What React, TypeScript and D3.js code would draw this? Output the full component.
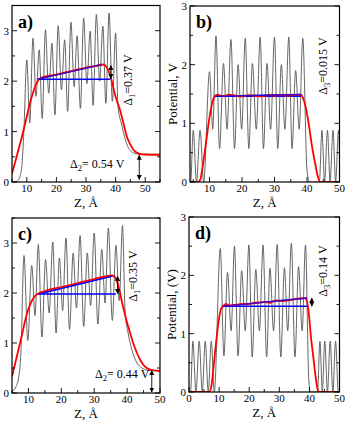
import React from "react";
import * as d3 from "d3";

type Pt = [number, number];

// ---- panel a ----
const grayA: Pt[] = [
  [5, 0], [6.5, 0.01], [7.5, 0.08], [8.3, 0.3], [9.0, 1.0], [10.0, 2.42],
  [11.0, 1.17], [12.1, 2.85], [13.1, 1.7], [14.2, 2.62], [15.2, 1.26], [16.3, 3.02],
  [17.4, 1.76], [18.5, 2.75], [19.5, 1.33], [20.6, 3.1], [21.7, 1.83], [22.8, 2.82],
  [23.8, 1.4], [24.9, 3.17], [26.0, 1.89], [27.0, 2.9], [28.1, 1.46], [29.2, 3.25],
  [30.3, 1.95], [31.4, 2.99], [32.4, 1.52], [33.5, 3.32], [34.6, 2.0], [35.7, 3.09],
  [36.7, 1.56], [37.8, 3.35], [38.9, 1.6], [40.0, 2.95], [40.8, 1.5], [42.0, 1.15],
  [43.0, 0.9], [44.0, 0.72], [45.0, 0.62], [46.5, 0.57], [48, 0.55], [55, 0.55],
];
const redA: Pt[] = [
  [5, 0.17], [6, 0.38], [7, 0.6], [8, 0.82], [9, 1.05], [10, 1.3], [11, 1.55],
  [12, 1.75], [13, 1.92], [14, 2.03], [15, 2.07], [20, 2.13], [25, 2.2], [30, 2.27],
  [34, 2.31], [35.5, 2.33], [36.5, 2.31], [37.5, 2.22], [38.5, 2.05], [39.5, 1.8],
  [40.5, 1.6], [41.5, 1.43], [42.5, 1.2], [43.8, 0.9], [45, 0.74], [46, 0.64],
  [47, 0.59], [48.2, 0.56], [50, 0.545], [55, 0.54],
];
const blueFlatA: Pt[] = [[13.7, 2.04], [38.2, 2.04]];
const blueSlopeA: Pt[] = [[13.7, 2.04], [35.3, 2.33]];
const arrowsA: [number, number, number][] = [[38.4, 2.05, 2.31], [48.0, 0.05, 0.53]];

// ---- panel b ----
const grayB: Pt[] = [
  [4, 0], [4.2, 0], [5.0, 0.88], [6.0, 0], [7.1, 0.88], [8.2, 0], [10.0, 1.88],
  [11.0, 0.9], [12.0, 2.49], [13.1, 0.57], [14.3, 2.02], [15.4, 0.9], [16.6, 2.43],
  [17.7, 0.57], [18.8, 2.0], [19.9, 0.9], [21.0, 2.45], [22.1, 0.57], [23.2, 2.02],
  [24.4, 0.9], [25.6, 2.47], [26.6, 0.57], [27.7, 2.02], [28.8, 0.9], [30.0, 2.47],
  [31.0, 0.57], [32.1, 2.0], [33.2, 0.9], [34.4, 2.47], [35.4, 0.57], [36.5, 1.9],
  [37.6, 0.9], [38.7, 2.45], [40.0, 0.2], [40.8, 0], [43.8, 0], [44.6, 0.88],
  [45.4, 0], [46.3, 0.88], [47.1, 0], [48.0, 0.88], [48.8, 0], [49.7, 0.88], [50, 0.4],
];
const redB: Pt[] = [
  [4, 0], [6.5, 0], [7.2, 0.05], [8, 0.3], [9, 0.7], [10, 1.1], [11, 1.38],
  [11.6, 1.46], [12.5, 1.49], [14, 1.46], [16, 1.49], [18, 1.47], [20, 1.46],
  [22, 1.48], [24, 1.47], [26, 1.46], [28, 1.48], [30, 1.47], [32, 1.48], [34, 1.47],
  [36, 1.48], [38, 1.49], [38.8, 1.43], [39.5, 1.3], [40.5, 1.0], [41.5, 0.62],
  [42.5, 0.32], [43.3, 0.1], [44, 0], [50, 0],
];
const blueFlatB: Pt[] = [[11.6, 1.46], [38.2, 1.46]];
const blueSlopeB: Pt[] = [[11.6, 1.46], [38.2, 1.49]];

// ---- panel c ----
const grayC: Pt[] = [
  [5, 0.03], [6, 0.1], [7, 0.3], [7.7, 0.8], [8.65, 2.75], [9.8, 1.05], [11.0, 2.55],
  [12.0, 1.55], [13.0, 2.97], [14.1, 1.12], [15.2, 2.67], [16.3, 1.6], [17.4, 3.02],
  [18.4, 1.2], [19.4, 2.7], [20.4, 1.65], [21.4, 3.1], [22.5, 1.27], [23.6, 2.8],
  [24.6, 1.7], [25.7, 3.15], [26.8, 1.33], [27.9, 2.8], [28.9, 1.75], [30.0, 3.2],
  [31.1, 1.38], [32.3, 2.87], [33.3, 1.8], [34.3, 3.3], [35.5, 1.45], [36.6, 2.95],
  [37.6, 1.85], [38.6, 3.35], [39.4, 1.6], [40.3, 1.2], [41.5, 0.85], [43, 0.6],
  [44.5, 0.5], [46, 0.46], [50, 0.44],
];
const redC: Pt[] = [
  [5, 0.33], [6, 0.6], [7, 0.88], [8, 1.15], [9, 1.45], [10, 1.68], [11, 1.84],
  [12, 1.94], [13, 1.99], [15, 2.04], [20, 2.12], [25, 2.2], [30, 2.28], [34, 2.34],
  [35.5, 2.35], [36.5, 2.3], [37.5, 2.1], [38.5, 1.8], [39.9, 1.43], [41, 1.18],
  [42, 0.97], [43, 0.8], [44, 0.66], [45, 0.56], [46, 0.5], [47.5, 0.46], [50, 0.44],
];
const blueFlatC: Pt[] = [[13, 1.98], [36.6, 1.98]];
const blueSlopeC: Pt[] = [[13, 1.98], [35.6, 2.34]];
const arrowsC: [number, number, number][] = [[37.1, 1.99, 2.33], [47.5, 0.02, 0.45]];

// ---- panel d ----
const grayD: Pt[] = [
  [0, 0], [0.5, 0], [1.3, 0.87], [2.3, 0], [3.4, 0.87], [4.4, 0], [5.4, 0.87], [6.4, 0],
  [7.4, 0.87], [8.4, 0], [10.4, 2.46], [11.6, 0.62], [12.8, 2.05], [14.0, 1.05],
  [15.1, 2.5], [16.3, 0.62], [17.5, 2.08], [18.7, 1.05], [19.9, 2.52], [21.0, 0.6],
  [22.2, 2.1], [23.4, 1.05], [24.6, 2.52], [25.8, 0.6], [26.9, 2.12], [28.1, 1.05],
  [29.3, 2.53], [30.5, 0.6], [31.7, 2.13], [32.8, 1.05], [34.0, 2.55], [35.2, 0.6],
  [36.4, 2.15], [37.6, 1.05], [38.7, 2.52], [39.8, 0.2], [40.3, 0], [42.7, 0],
  [43.5, 0.87], [44.3, 0], [45.1, 0.87], [46.0, 0], [46.9, 0.87], [47.8, 0],
  [48.7, 0.87], [49.6, 0], [50, 0],
];
const redD: Pt[] = [
  [0, 0], [6.8, 0], [7.5, 0.12], [8.2, 0.45], [9, 0.85], [9.8, 1.2], [10.6, 1.42],
  [11.5, 1.48], [12.3, 1.51], [13.5, 1.48], [15, 1.49], [18, 1.51], [20, 1.51],
  [22, 1.53], [25, 1.54], [27, 1.53], [29, 1.57], [31, 1.56], [34, 1.58], [36, 1.6],
  [38.5, 1.61], [39.2, 1.55], [39.8, 1.35], [40.5, 0.95], [41.3, 0.6], [42.1, 0.25],
  [42.8, 0.03], [43.3, 0], [50, 0],
];
const blueFlatD: Pt[] = [[11.2, 1.47], [39.5, 1.47]];
const blueSlopeD: Pt[] = [[11.2, 1.47], [39.2, 1.61]];
const arrowsD: [number, number, number][] = [[40.8, 1.47, 1.61]];

const xTicks = [10, 20, 30, 40, 50];
const xTicksD = [0, 10, 20, 30, 40, 50];
const yTicks = [0, 1, 2, 3];

const FONT = "'Liberation Serif', 'Times New Roman', serif";

type Note = { text: string; sub: string; rest: string; x: number; y: number; rotate?: boolean };

type PanelProps = {
  id: string;
  left: number; right: number; top: number; bottom: number;
  xDomain: [number, number]; yDomain: [number, number];
  xt: number[];
  gray: Pt[]; red: Pt[]; blues: Pt[][];
  arrows: [number, number, number][];
  label: string;
  yTitle?: string;
  notes: Note[];
};

const Panel = (p: PanelProps) => {
  const x = d3.scaleLinear().domain(p.xDomain).range([p.left, p.right]);
  const y = d3.scaleLinear().domain(p.yDomain).range([p.bottom, p.top]);
  const line = d3.line<Pt>().x((d) => x(d[0])).y((d) => y(d[1])).curve(d3.curveMonotoneX);
  const straight = d3.line<Pt>().x((d) => x(d[0])).y((d) => y(d[1]));

  const xMinor = d3.range(Math.ceil(p.xDomain[0] / 5) * 5, p.xDomain[1] + 0.01, 5);
  const yMinor = d3.range(0, p.yDomain[1] + 0.01, 0.5);

  return (
    <g>
      <defs>
        <clipPath id={`clip-${p.id}`}>
          <rect x={p.left} y={p.top} width={p.right - p.left} height={p.bottom - p.top} />
        </clipPath>
      </defs>
      <g clipPath={`url(#clip-${p.id})`}>
        <path d={line(p.gray) || ""} fill="none" stroke="#555" strokeWidth={0.9} />
        {p.blues.map((b, i) => (
          <path key={i} d={straight(b) || ""} fill="none" stroke="#0000ff" strokeWidth={1.5} />
        ))}
        <path d={line(p.red) || ""} fill="none" stroke="#ff0000" strokeWidth={1.8} />
        {p.blues.slice(1).map((b, i) => (
          <path key={i} d={straight(b) || ""} fill="none" stroke="#0000ff" strokeWidth={1.2} opacity={0.8} />
        ))}
        {p.arrows.map((a, i) => (
          <line key={i} x1={x(a[0])} x2={x(a[0])} y1={y(a[1])} y2={y(a[2])}
            stroke="#000" strokeWidth={0.9} markerStart="url(#arrh)" markerEnd="url(#arrh)" />
        ))}
      </g>
      {/* ticks */}
      <g stroke="#000" strokeWidth={0.9}>
        {xMinor.map((t) => {
          const major = t % 10 === 0;
          return <line key={`x${t}`} x1={x(t)} x2={x(t)} y1={p.bottom} y2={p.bottom - (major ? 5 : 3)} />;
        })}
        {yMinor.map((t) => {
          const major = t % 1 === 0;
          const len = major ? 5 : 3;
          return (
            <g key={`y${t}`}>
              <line x1={p.left} x2={p.left + len} y1={y(t)} y2={y(t)} />
              <line x1={p.right} x2={p.right - len} y1={y(t)} y2={y(t)} />
            </g>
          );
        })}
      </g>
      <rect x={p.left} y={p.top} width={p.right - p.left} height={p.bottom - p.top}
        fill="none" stroke="#000" strokeWidth={1.2} />
      <g fontFamily={FONT} fontSize={11} fill="#000">
        {p.xt.map((t) => (
          <text key={t} x={x(t)} y={p.bottom + 9.5} textAnchor="middle">{t}</text>
        ))}
        {yTicks.map((t) => (
          <text key={t} x={p.left - 3} y={y(t) + 4} textAnchor="end">{t}</text>
        ))}
      </g>
      <text x={(p.left + p.right) / 2} y={p.bottom + 25} textAnchor="middle"
        fontFamily={FONT} fontSize={13}>Z, Å</text>
      {p.yTitle && (
        <text transform={`translate(${p.left - 13},${(p.top + p.bottom) / 2}) rotate(-90)`}
          textAnchor="middle" fontFamily={FONT} fontSize={13}>{p.yTitle}</text>
      )}
      <text x={p.left + 6} y={p.top + 22} fontFamily={FONT} fontSize={18} fontWeight="bold">{p.label}</text>
      {p.notes.map((n, i) => (
        <text key={i}
          transform={n.rotate ? `translate(${n.x},${n.y}) rotate(-90)` : `translate(${n.x},${n.y})`}
          textAnchor={n.rotate ? "middle" : "start"} fontFamily={FONT} fontSize={12}>
          {n.text}
          <tspan dy={3} fontSize={8.5}>{n.sub}</tspan>
          <tspan dy={-3}>{n.rest}</tspan>
        </text>
      ))}
    </g>
  );
};

export default function App() {
  return (
    <svg width={346} height={433} viewBox="0 0 346 433"
      style={{ position: "absolute", left: 0, top: 0, background: "#fff" }}>
      <defs>
        <marker id="arrh" viewBox="0 0 10 10" refX={9} refY={5} markerWidth={5} markerHeight={5}
          markerUnits="userSpaceOnUse" orient="auto-start-reverse">
          <path d="M0,0 L10,5 L0,10 z" fill="#000" />
        </marker>
      </defs>
      <Panel id="a" left={12} right={160} top={5.5} bottom={182} xDomain={[5, 55]} yDomain={[0, 3.5]}
        xt={xTicks} gray={grayA} red={redA} blues={[blueFlatA, blueSlopeA]} arrows={arrowsA} label="a)"
        notes={[
          { text: "Δ", sub: "1", rest: "=0.37 V", x: 131.5, y: 80, rotate: true },
          { text: "Δ", sub: "2", rest: "= 0.54 V", x: 70, y: 168 },
        ]} />
      <Panel id="b" left={190} right={339.5} top={6} bottom={182} xDomain={[4, 50]} yDomain={[0, 3]}
        xt={xTicks} gray={grayB} red={redB} blues={[blueFlatB, blueSlopeB]} arrows={[]} label="b)"
        yTitle="Potential, V"
        notes={[{ text: "Δ", sub: "3", rest: "=0.015 V", x: 327, y: 66, rotate: true }]} />
      <Panel id="c" left={12} right={160} top={218} bottom={393} xDomain={[5, 50]} yDomain={[0, 3.5]}
        xt={xTicks} gray={grayC} red={redC} blues={[blueFlatC, blueSlopeC]} arrows={arrowsC} label="c)"
        notes={[
          { text: "Δ", sub: "1", rest: "=0.35 V", x: 136.5, y: 276, rotate: true },
          { text: "Δ", sub: "2", rest: "= 0.44 V", x: 95, y: 378 },
        ]} />
      <Panel id="d" left={189} right={339.5} top={217} bottom={392} xDomain={[0, 50]} yDomain={[0, 3]}
        xt={xTicksD} gray={grayD} red={redD} blues={[blueFlatD, blueSlopeD]} arrows={arrowsD} label="d)"
        yTitle="Potential, (V)"
        notes={[{ text: "Δ", sub: "3", rest: "=0.14 V", x: 327, y: 271, rotate: true }]} />
    </svg>
  );
}
